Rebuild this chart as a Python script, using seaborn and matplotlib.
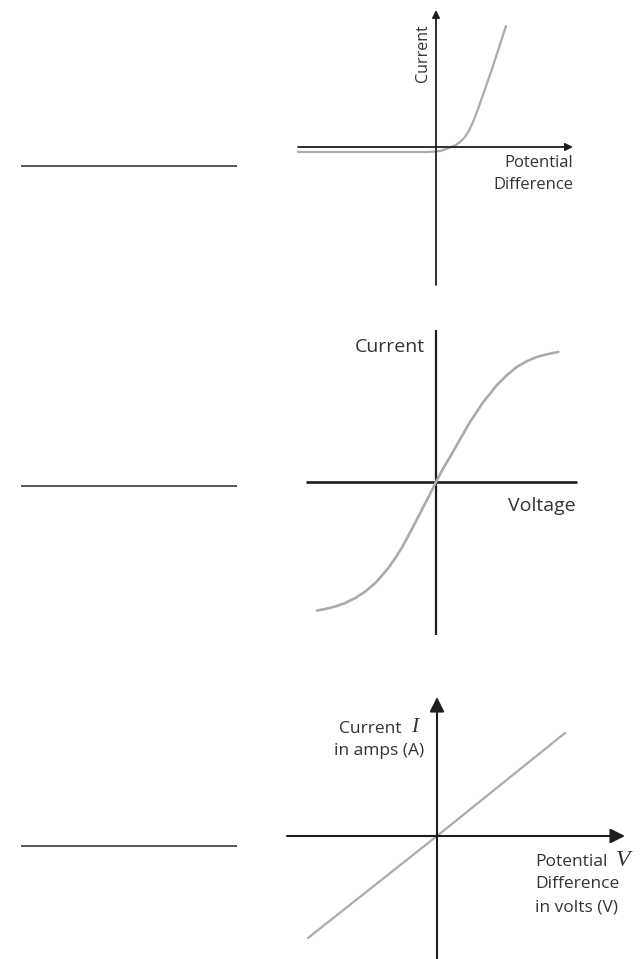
import matplotlib
matplotlib.use("Agg")
import matplotlib.pyplot as plt
import seaborn as sns

sns.set_theme(style="white")
plt.rcParams['font.family'] = ['Open Sans', 'DejaVu Sans']

W, H = 642, 959

# ---- data (arbitrary schematic units, 1 unit ~ 10 px) ----
# Panel 1: diode-like characteristic
diode_v = [-13.8, -4.0, -1.0, 0.0, 0.5, 0.9, 1.4, 1.9, 2.4, 2.9, 3.3, 3.7, 4.2, 5.6, 7.0]
diode_i = [-0.5, -0.5, -0.5, -0.45, -0.38, -0.25, -0.05, 0.15, 0.5, 1.0, 1.65, 2.5, 3.8, 7.8, 12.1]

# Panel 2: filament-lamp-like S curve
lamp_v = [-11.9, -11.07, -10.07, -9.07, -8.07, -7.07, -6.07, -5.4, -4.73, -4.07, -3.4,
          -2.73, -2.07, -1.4, -0.7, 0.0, 0.7, 1.4, 2.07, 2.73, 3.4, 4.07, 4.73, 5.4,
          6.07, 7.07, 8.07, 9.07, 10.07, 11.07, 12.23]
lamp_i = [-12.85, -12.7, -12.45, -12.1, -11.6, -10.95, -10.1, -9.35, -8.55, -7.6, -6.55,
          -5.3, -4.05, -2.75, -1.4, 0.0, 1.33, 2.5, 3.67, 4.83, 6.0, 7.0, 8.0, 8.83,
          9.67, 10.67, 11.5, 12.07, 12.5, 12.77, 13.0]

# Panel 3: ohmic resistor straight line
ohm_v = [-12.9, 0.0, 12.8]
ohm_i = [-10.2, 0.0, 10.3]

# answer lines (left column)
answer_line_y = [166, 486, 846]
answer_line_x = [21, 237]

AXIS_C = "#1e1e1e"
CURVE_C = "#ababab"
TEXT_C = "#333333"

fig = plt.figure(figsize=(W / 100, H / 100), dpi=100)
fig.patch.set_facecolor("white")


def panel(left, top, right, bottom, ox, oy, scale=10.0):
    ax = fig.add_axes([left / W, 1 - bottom / H, (right - left) / W, (bottom - top) / H])
    ax.set_xlim((left - ox) / scale, (right - ox) / scale)
    ax.set_ylim((oy - bottom) / scale, (oy - top) / scale)
    ax.axis("off")
    ax.patch.set_alpha(0)
    return ax


def arrow(ax, x0, y0, x1, y1, lw, ms):
    ax.annotate("", xy=(x1, y1), xytext=(x0, y0),
                arrowprops=dict(arrowstyle="-|>", lw=lw, color=AXIS_C,
                                mutation_scale=ms, shrinkA=0, shrinkB=0))


# ---- left column answer lines ----
axl = fig.add_axes([0, 0, 260 / W, 1])
axl.set_xlim(0, 260)
axl.set_ylim(H, 0)
axl.axis("off")
axl.patch.set_alpha(0)
for yy in answer_line_y:
    axl.hlines(yy, answer_line_x[0], answer_line_x[1], color="#555555", lw=1.4)

# ---- Panel 1 ----
ax1 = panel(288, 0, 590, 295, 436, 147)
sns.lineplot(x=diode_v, y=diode_i, ax=ax1, color=CURVE_C, lw=1.6, sort=False, zorder=3)
arrow(ax1, -13.8, 0, 13.7, 0, 1.3, 11)
arrow(ax1, 0, -13.8, 0, 13.7, 1.3, 11)
ax1.text(-1.3, 9.4, "Current", rotation=90, ha="center", va="center",
         fontsize=11.5, color=TEXT_C)
ax1.text(13.7, -1.6, "Potential", ha="right", va="center", fontsize=12, color=TEXT_C)
ax1.text(13.7, -3.8, "Difference", ha="right", va="center", fontsize=12, color=TEXT_C)

# ---- Panel 2 ----
ax2 = panel(296, 320, 590, 645, 436, 482)
sns.lineplot(x=lamp_v, y=lamp_i, ax=ax2, color=CURVE_C, lw=1.9, sort=False, zorder=3)
ax2.plot([-13.0, 14.1], [0, 0], color=AXIS_C, lw=1.9, solid_capstyle="butt", zorder=2)
ax2.plot([0, 0], [-15.3, 15.2], color=AXIS_C, lw=1.6, solid_capstyle="butt", zorder=2)
ax2.text(-1.1, 13.5, "Current", ha="right", va="center", fontsize=14, color=TEXT_C)
ax2.text(14.0, -2.4, "Voltage", ha="right", va="center", fontsize=14, color=TEXT_C)

# ---- Panel 3 ----
ax3 = panel(280, 680, 642, 959, 437, 836)
sns.lineplot(x=ohm_v, y=ohm_i, ax=ax3, color=CURVE_C, lw=1.6, sort=False, zorder=3)
arrow(ax3, -15.0, 0, 18.8, 0, 1.5, 22)
arrow(ax3, 0, -12.5, 0, 13.9, 1.5, 22)
ax3.text(-3.5, 10.7, "Current", ha="right", va="center", fontsize=12.5, color=TEXT_C)
ax3.text(-1.9, 10.9, "I", ha="right", va="center", fontsize=15.5, color=TEXT_C,
         family="Liberation Serif", style="italic")
ax3.text(-1.3, 8.5, "in amps (A)", ha="right", va="center", fontsize=12.5, color=TEXT_C)
ax3.text(9.8, -2.6, "Potential", ha="left", va="center", fontsize=12.5, color=TEXT_C)
ax3.text(17.9, -2.5, "V", ha="left", va="center", fontsize=17, color=TEXT_C,
         family="Liberation Serif", style="italic")
ax3.text(9.8, -4.8, "Difference", ha="left", va="center", fontsize=12.5, color=TEXT_C)
ax3.text(9.8, -7.1, "in volts (V)", ha="left", va="center", fontsize=12.5, color=TEXT_C)

fig.savefig("out.png", dpi=100, facecolor="white")
